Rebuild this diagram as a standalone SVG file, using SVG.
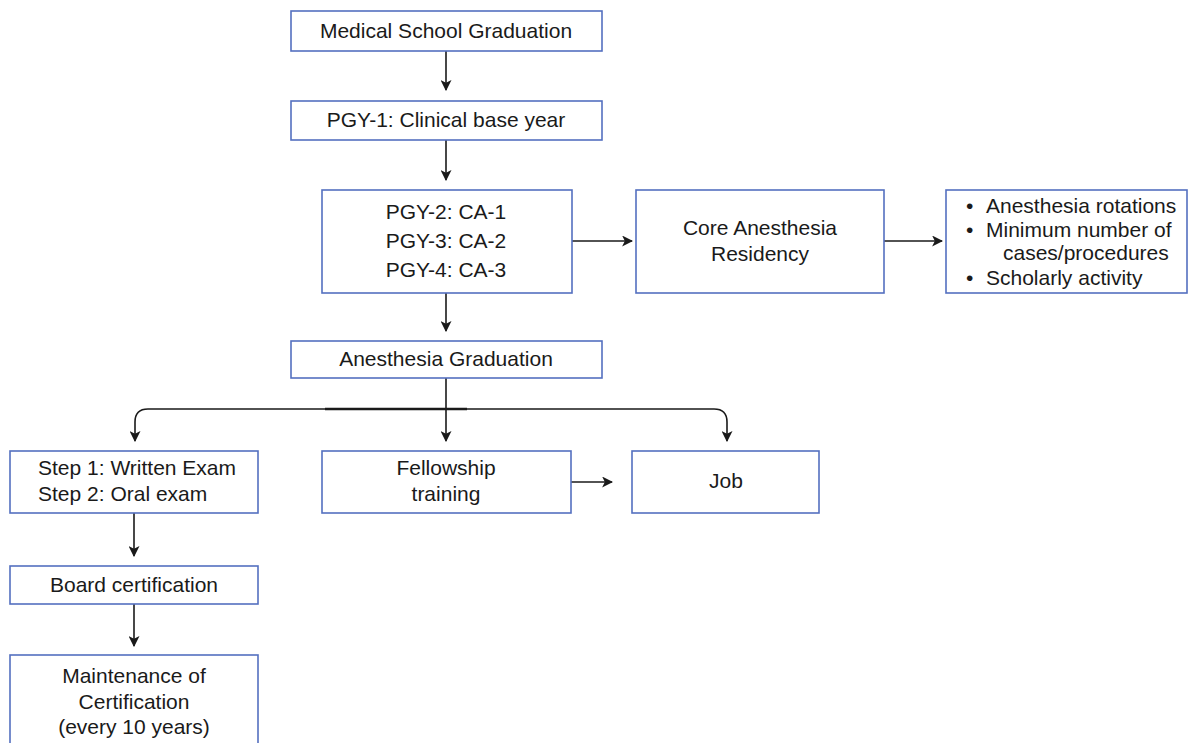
<svg xmlns="http://www.w3.org/2000/svg" width="1188" height="743" viewBox="0 0 1188 743">
<defs>
<style>
.box{fill:#fff;stroke:#5470c0;stroke-width:1.6}
.t{font-family:"Liberation Sans",Arial,sans-serif;font-size:21px;fill:#1a1a1a}
.c{text-anchor:middle}
.ln{fill:none;stroke:#1a1a1a;stroke-width:1.6}
</style>
<marker id="ah" viewBox="0 0 10 10" refX="9" refY="5" markerWidth="11" markerHeight="11" markerUnits="userSpaceOnUse" orient="auto">
<path d="M0,0 L10,5 L0,10 L2.5,5 Z" fill="#1a1a1a"/>
</marker>
</defs>
<rect width="1188" height="743" fill="#fff"/>
<g id="connectors">
<line class="ln" x1="446" y1="51" x2="446" y2="90" marker-end="url(#ah)"/>
<line class="ln" x1="446" y1="140" x2="446" y2="180" marker-end="url(#ah)"/>
<line class="ln" x1="572" y1="241" x2="632" y2="241" marker-end="url(#ah)"/>
<line class="ln" x1="884" y1="241" x2="942" y2="241" marker-end="url(#ah)"/>
<line class="ln" x1="446" y1="293" x2="446" y2="331" marker-end="url(#ah)"/>
<line class="ln" x1="446" y1="378" x2="446" y2="441" marker-end="url(#ah)"/>
<path class="ln" d="M148,409 L714,409 Q727,409 727,422 L727,441" marker-end="url(#ah)"/>
<path class="ln" d="M148,409 Q135,409 135,422 L135,441" marker-end="url(#ah)"/>
<line x1="325" y1="409" x2="467" y2="409" stroke="#1a1a1a" stroke-width="2.6"/>
<line class="ln" x1="571" y1="482" x2="612" y2="482" marker-end="url(#ah)"/>
<line class="ln" x1="134" y1="513" x2="134" y2="556" marker-end="url(#ah)"/>
<line class="ln" x1="134" y1="604" x2="134" y2="646" marker-end="url(#ah)"/>
</g>
<g id="n1"><rect class="box" x="291" y="11" width="311" height="40"/><text class="t c" x="446" y="38">Medical School Graduation</text></g>
<g id="n2"><rect class="box" x="291" y="101" width="311" height="39"/><text class="t c" x="446" y="127">PGY-1: Clinical base year</text></g>
<g id="n3"><rect class="box" x="322" y="190" width="250" height="103"/>
<text class="t c" x="446" y="219">PGY-2: CA-1</text>
<text class="t c" x="446" y="248">PGY-3: CA-2</text>
<text class="t c" x="446" y="277">PGY-4: CA-3</text></g>
<g id="n4"><rect class="box" x="636" y="190" width="248" height="103"/>
<text class="t c" x="760" y="235">Core Anesthesia</text>
<text class="t c" x="760" y="261">Residency</text></g>
<g id="n5"><rect class="box" x="946" y="190" width="241" height="103"/>
<text class="t" x="966" y="213">•</text><text class="t" x="986" y="213">Anesthesia rotations</text>
<text class="t" x="966" y="237">•</text><text class="t" x="986" y="237">Minimum number of</text>
<text class="t" x="1003" y="260">cases/procedures</text>
<text class="t" x="966" y="285">•</text><text class="t" x="986" y="285">Scholarly activity</text></g>
<g id="n6"><rect class="box" x="291" y="341" width="311" height="37"/><text class="t c" x="446" y="366">Anesthesia Graduation</text></g>
<g id="n7"><rect class="box" x="10" y="451" width="248" height="62"/>
<text class="t" x="38" y="475">Step 1: Written Exam</text>
<text class="t" x="38" y="501">Step 2: Oral exam</text></g>
<g id="n8"><rect class="box" x="322" y="451" width="249" height="62"/>
<text class="t c" x="446" y="475">Fellowship</text>
<text class="t c" x="446" y="501">training</text></g>
<g id="n9"><rect class="box" x="632" y="451" width="187" height="62"/><text class="t c" x="726" y="488">Job</text></g>
<g id="n10"><rect class="box" x="10" y="566" width="248" height="38"/><text class="t c" x="134" y="592">Board certification</text></g>
<g id="n11"><rect class="box" x="10" y="655" width="248" height="100"/>
<text class="t c" x="134" y="683">Maintenance of</text>
<text class="t c" x="134" y="709">Certification</text>
<text class="t c" x="134" y="734">(every 10 years)</text></g>
</svg>
